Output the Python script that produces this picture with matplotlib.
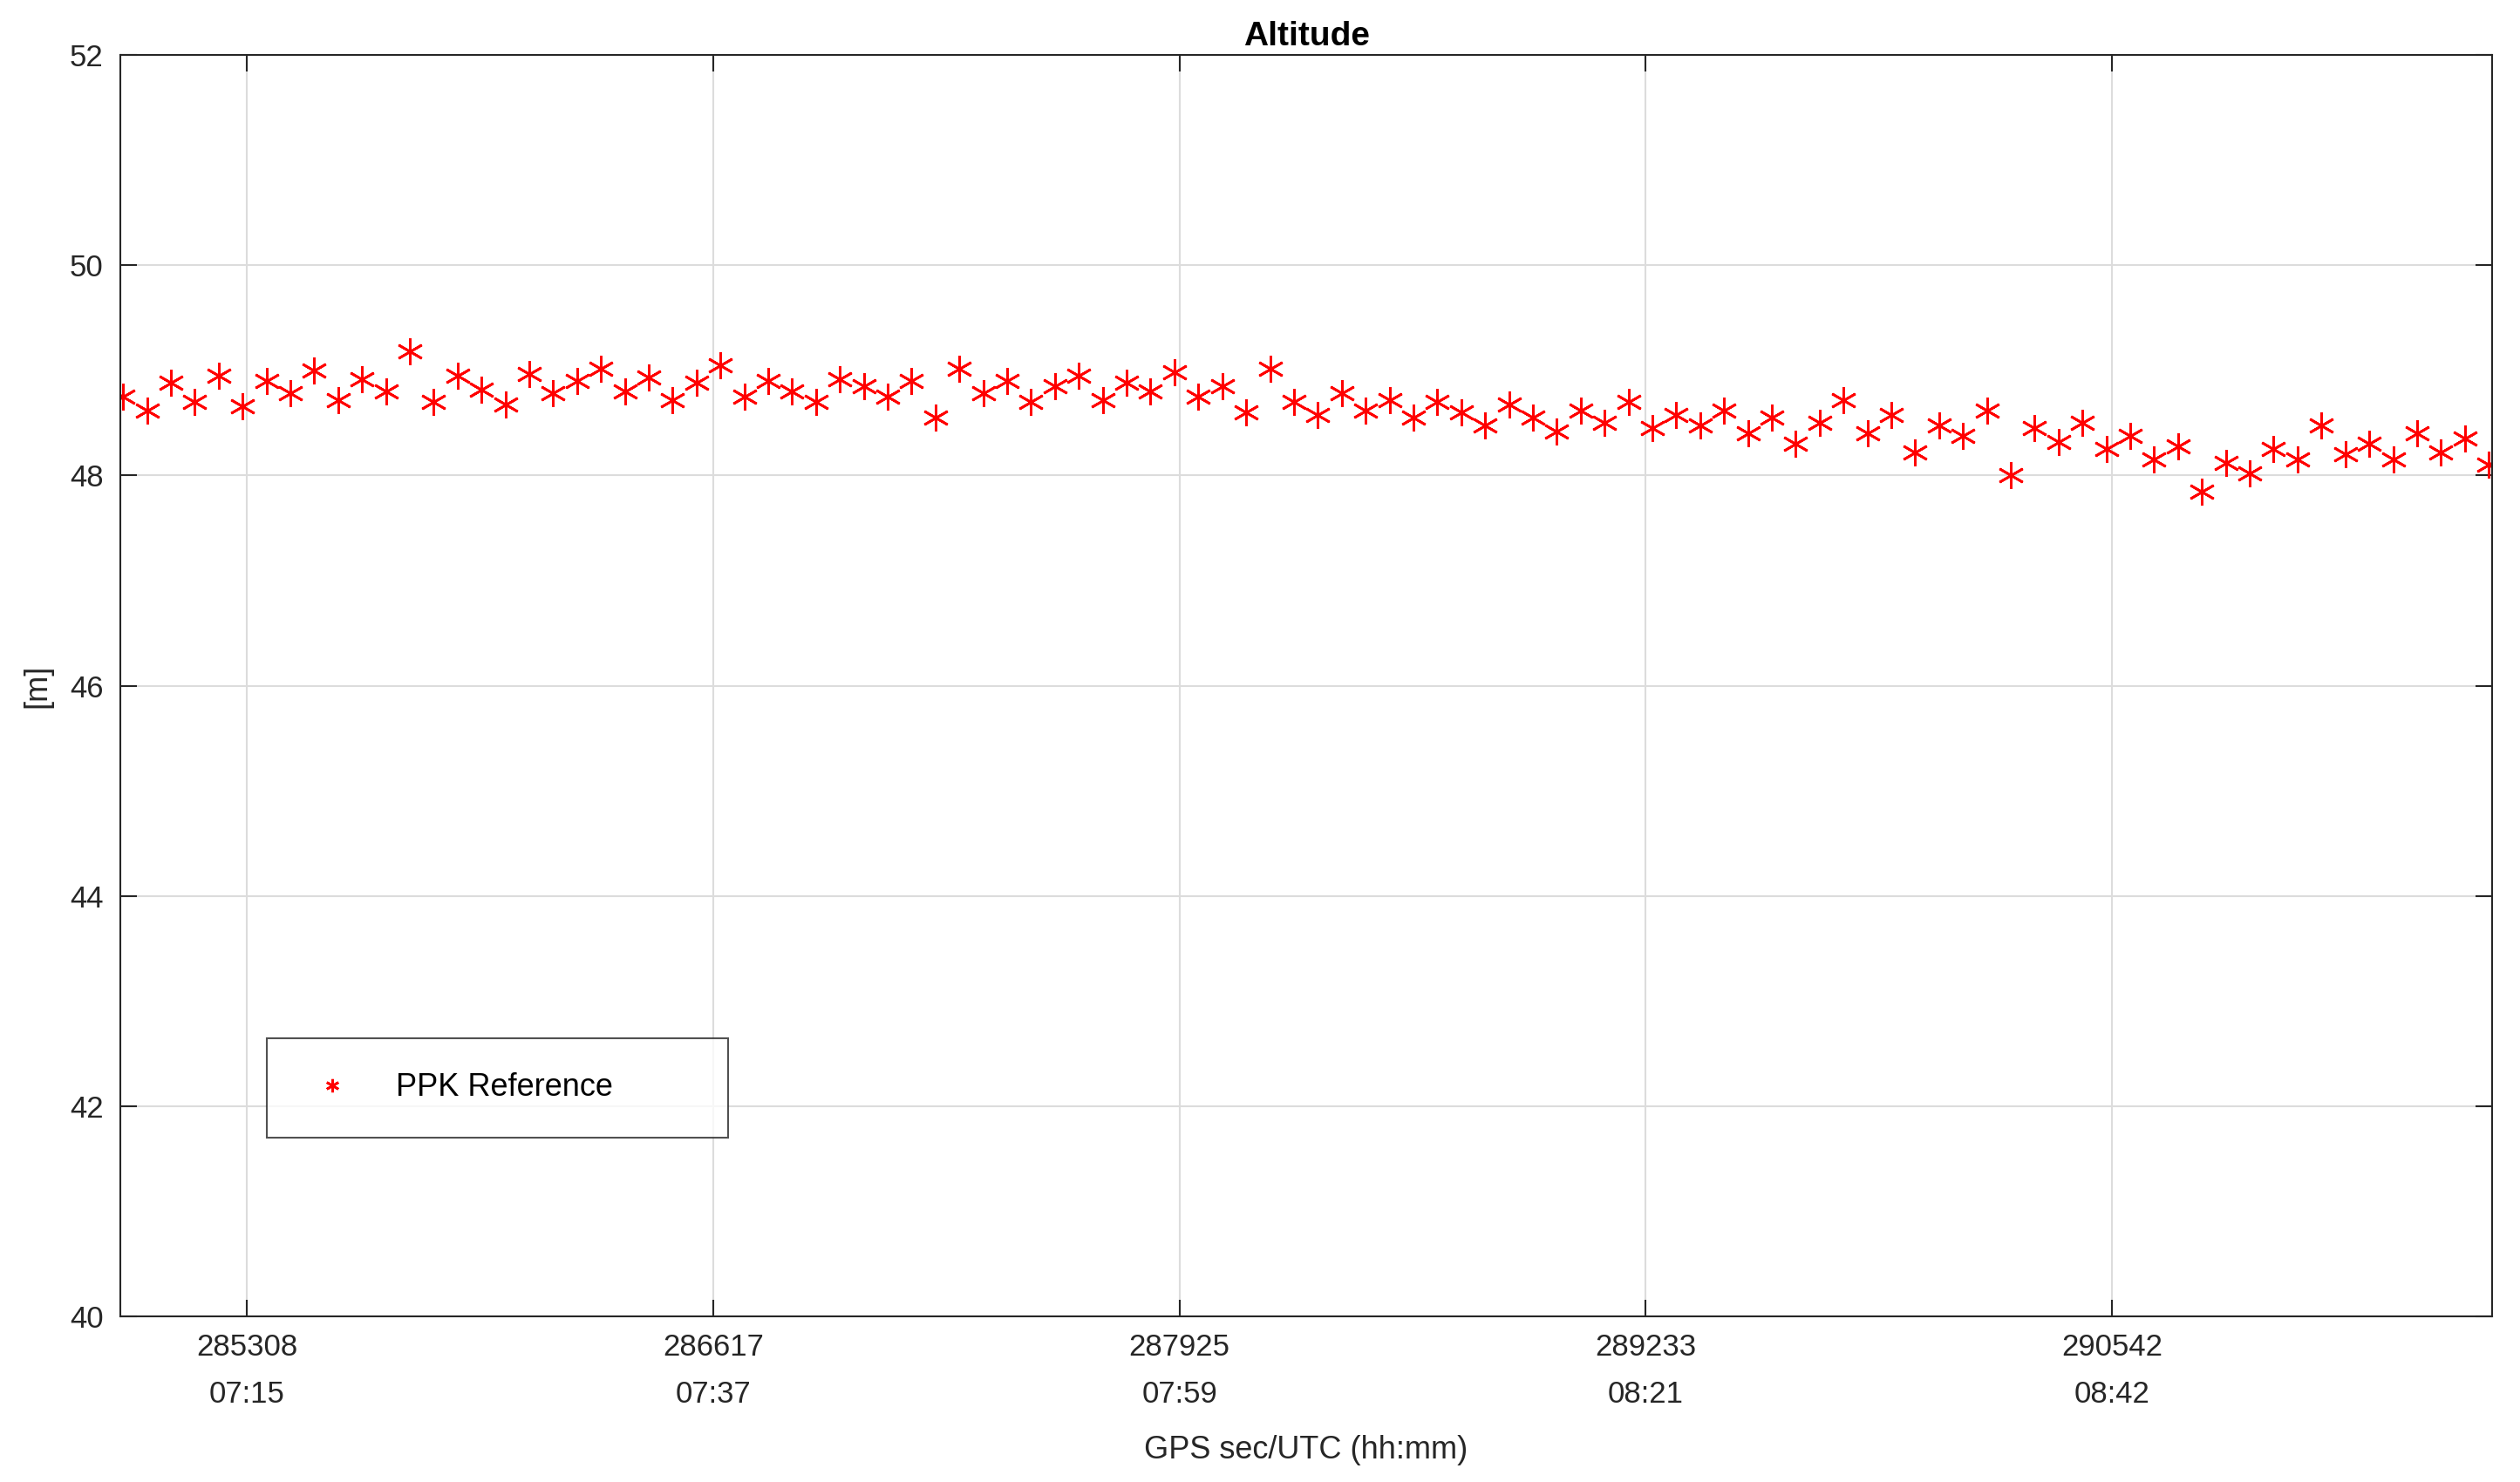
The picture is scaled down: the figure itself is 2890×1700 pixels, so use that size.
import numpy as np
import matplotlib
matplotlib.use("Agg")
import matplotlib.pyplot as plt

plt.rcParams['font.family'] = ['Liberation Sans', 'DejaVu Sans']

x_start, x_end = 284960, 291600
altitude = [48.75, 48.62, 48.88, 48.70, 48.95, 48.66,
            48.9, 48.78, 49.0, 48.72, 48.92, 48.8, 49.18, 48.7, 48.95, 48.82, 48.68, 48.97, 48.78, 48.9, 49.02,
            48.8, 48.93, 48.72, 48.88, 49.05, 48.75, 48.9, 48.8, 48.7, 48.92, 48.85, 48.75, 48.9, 48.55, 49.02,
            48.78, 48.9, 48.7, 48.85, 48.95, 48.72, 48.88, 48.8, 48.98, 48.75, 48.85, 48.6, 49.02, 48.7, 48.58,
            48.78, 48.62, 48.72, 48.55, 48.7, 48.6, 48.48, 48.68, 48.55, 48.42, 48.62, 48.5, 48.7, 48.45, 48.58,
            48.48, 48.62, 48.4, 48.55, 48.3, 48.5, 48.72, 48.4, 48.58, 48.22, 48.48, 48.38, 48.62, 48.0, 48.45,
            48.32, 48.5, 48.25, 48.38, 48.15, 48.28, 47.85, 48.12, 48.02, 48.25, 48.15, 48.48, 48.2, 48.3, 48.15,
            48.4, 48.22, 48.35, 48.1]
gps = np.linspace(x_start, x_end, len(altitude))
tick_pos = [285308, 286617, 287925, 289233, 290542]
tick_utc = ["07:15", "07:37", "07:59", "08:21", "08:42"]

fig = plt.figure(figsize=(28.9, 17), dpi=100)
ax = fig.add_axes([0.0477, 0.112, 0.9413, 0.8507])
ax.plot(gps, altitude, linestyle='none', marker=(6, 2, 0), color='red', markersize=22,
        markeredgewidth=2.0, label='PPK Reference')
ax.set_xlim(284952, 291610)
ax.set_ylim(40, 52)
ax.set_yticks(range(40, 53, 2))
ax.set_xticks(tick_pos)
ax.set_xticklabels([f"{p}\n{u}" for p, u in zip(tick_pos, tick_utc)], linespacing=1.8)
ax.tick_params(direction='in', length=14, width=1.5, labelsize=25, top=True, right=True, pad=14,
               colors='#262626')
ax.grid(True, color='#dcdcdc', linewidth=1.5)
ax.set_axisbelow(True)
for s in ax.spines.values():
    s.set_linewidth(1.5)
    s.set_color('#262626')
ax.set_title("Altitude", fontsize=28, fontweight='bold', pad=8)
ax.set_xlabel("GPS sec/UTC (hh:mm)", fontsize=26, labelpad=22, color='#262626')
ax.set_ylabel("[m]", fontsize=26, labelpad=14, color='#262626')
leg = ax.legend(loc='lower left', bbox_to_anchor=(0.055, 0.129, 0.208, 0.093), mode='expand',
                fancybox=False, edgecolor='#262626', fontsize=26, borderpad=1.1, markerscale=0.5,
                handletextpad=1.0)
leg.get_frame().set_linewidth(1.5)
fig.savefig("out.png", dpi=100, facecolor='white')
